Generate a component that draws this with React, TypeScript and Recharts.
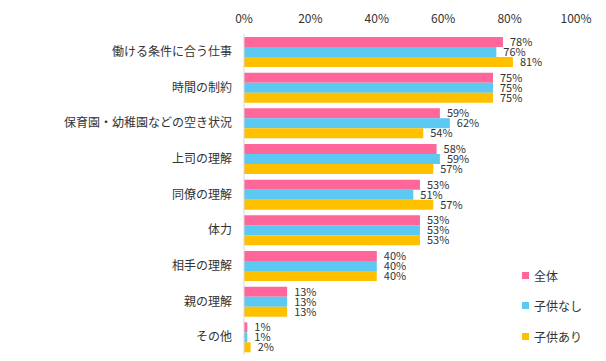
import { BarChart, Bar, XAxis, YAxis, LabelList, Legend } from 'recharts';

const categories = [
  '働ける条件に合う仕事',
  '時間の制約',
  '保育園・幼稚園などの空き状況',
  '上司の理解',
  '同僚の理解',
  '体力',
  '相手の理解',
  '親の理解',
  'その他',
];
const allValues = [78, 75, 59, 58, 53, 53, 40, 13, 1];
const noChildValues = [76, 75, 62, 59, 51, 53, 40, 13, 1];
const withChildValues = [81, 75, 54, 57, 57, 53, 40, 13, 2];
const xTicks = [0, 20, 40, 60, 80, 100];

const seriesList = [
  { key: 'all', name: '全体', color: '#FF6699' },
  { key: 'noChild', name: '子供なし', color: '#5BC9F1' },
  { key: 'withChild', name: '子供あり', color: '#FFC000' },
];

const data = categories.map((c, i) => ({
  name: c,
  all: allValues[i],
  noChild: noChildValues[i],
  withChild: withChildValues[i],
}));

const font = '"Noto Sans CJK JP", "Noto Sans", sans-serif';

function LegendBox() {
  return (
    <div style={{ fontFamily: font, fontSize: 12, color: '#333' }}>
      {seriesList.map((s) => (
        <div key={s.key} style={{ display: 'flex', alignItems: 'center', height: 30.5 }}>
          <span style={{ width: 7, height: 7, background: s.color, marginRight: 5, display: 'inline-block' }} />
          {s.name}
        </div>
      ))}
    </div>
  );
}

export default function App() {
  return (
    <div style={{ position: 'absolute', left: 0, top: 0, width: 606, height: 361, background: '#fff' }}>
      <BarChart
        width={606}
        height={361}
        data={data}
        layout="vertical"
        margin={{ top: 0, right: 30, bottom: 6, left: 0 }}
        barGap={0}
        barSize={10}
        style={{ fontFamily: font }}
      >
        <XAxis
          type="number"
          orientation="top"
          domain={[0, 100]}
          ticks={xTicks}
          tickFormatter={(v) => `${v}%`}
          axisLine={false}
          tickLine={false}
          height={34}
          tickMargin={5}
          tick={{ fontSize: 12, fill: '#333' }}
        />
        <YAxis
          type="category"
          dataKey="name"
          width={244}
          axisLine={{ stroke: '#d9d9d9' }}
          tickLine={false}
          tickMargin={6}
          tick={{ fontSize: 12, fill: '#333' }}
          interval={0}
        />
        <Legend
          layout="horizontal"
          verticalAlign="middle"
          align="center"
          content={<LegendBox />}
          wrapperStyle={{ position: 'absolute', left: 522, top: 260, width: 80 }}
        />
        {seriesList.map((s) => (
          <Bar key={s.key} dataKey={s.key} name={s.name} fill={s.color} isAnimationActive={false}>
            <LabelList
              dataKey={s.key}
              position="right"
              offset={7}
              formatter={(v: any) => `${v}%`}
              style={{ fontSize: 11, fill: '#333', fontFamily: font }}
            />
          </Bar>
        ))}
      </BarChart>
    </div>
  );
}
